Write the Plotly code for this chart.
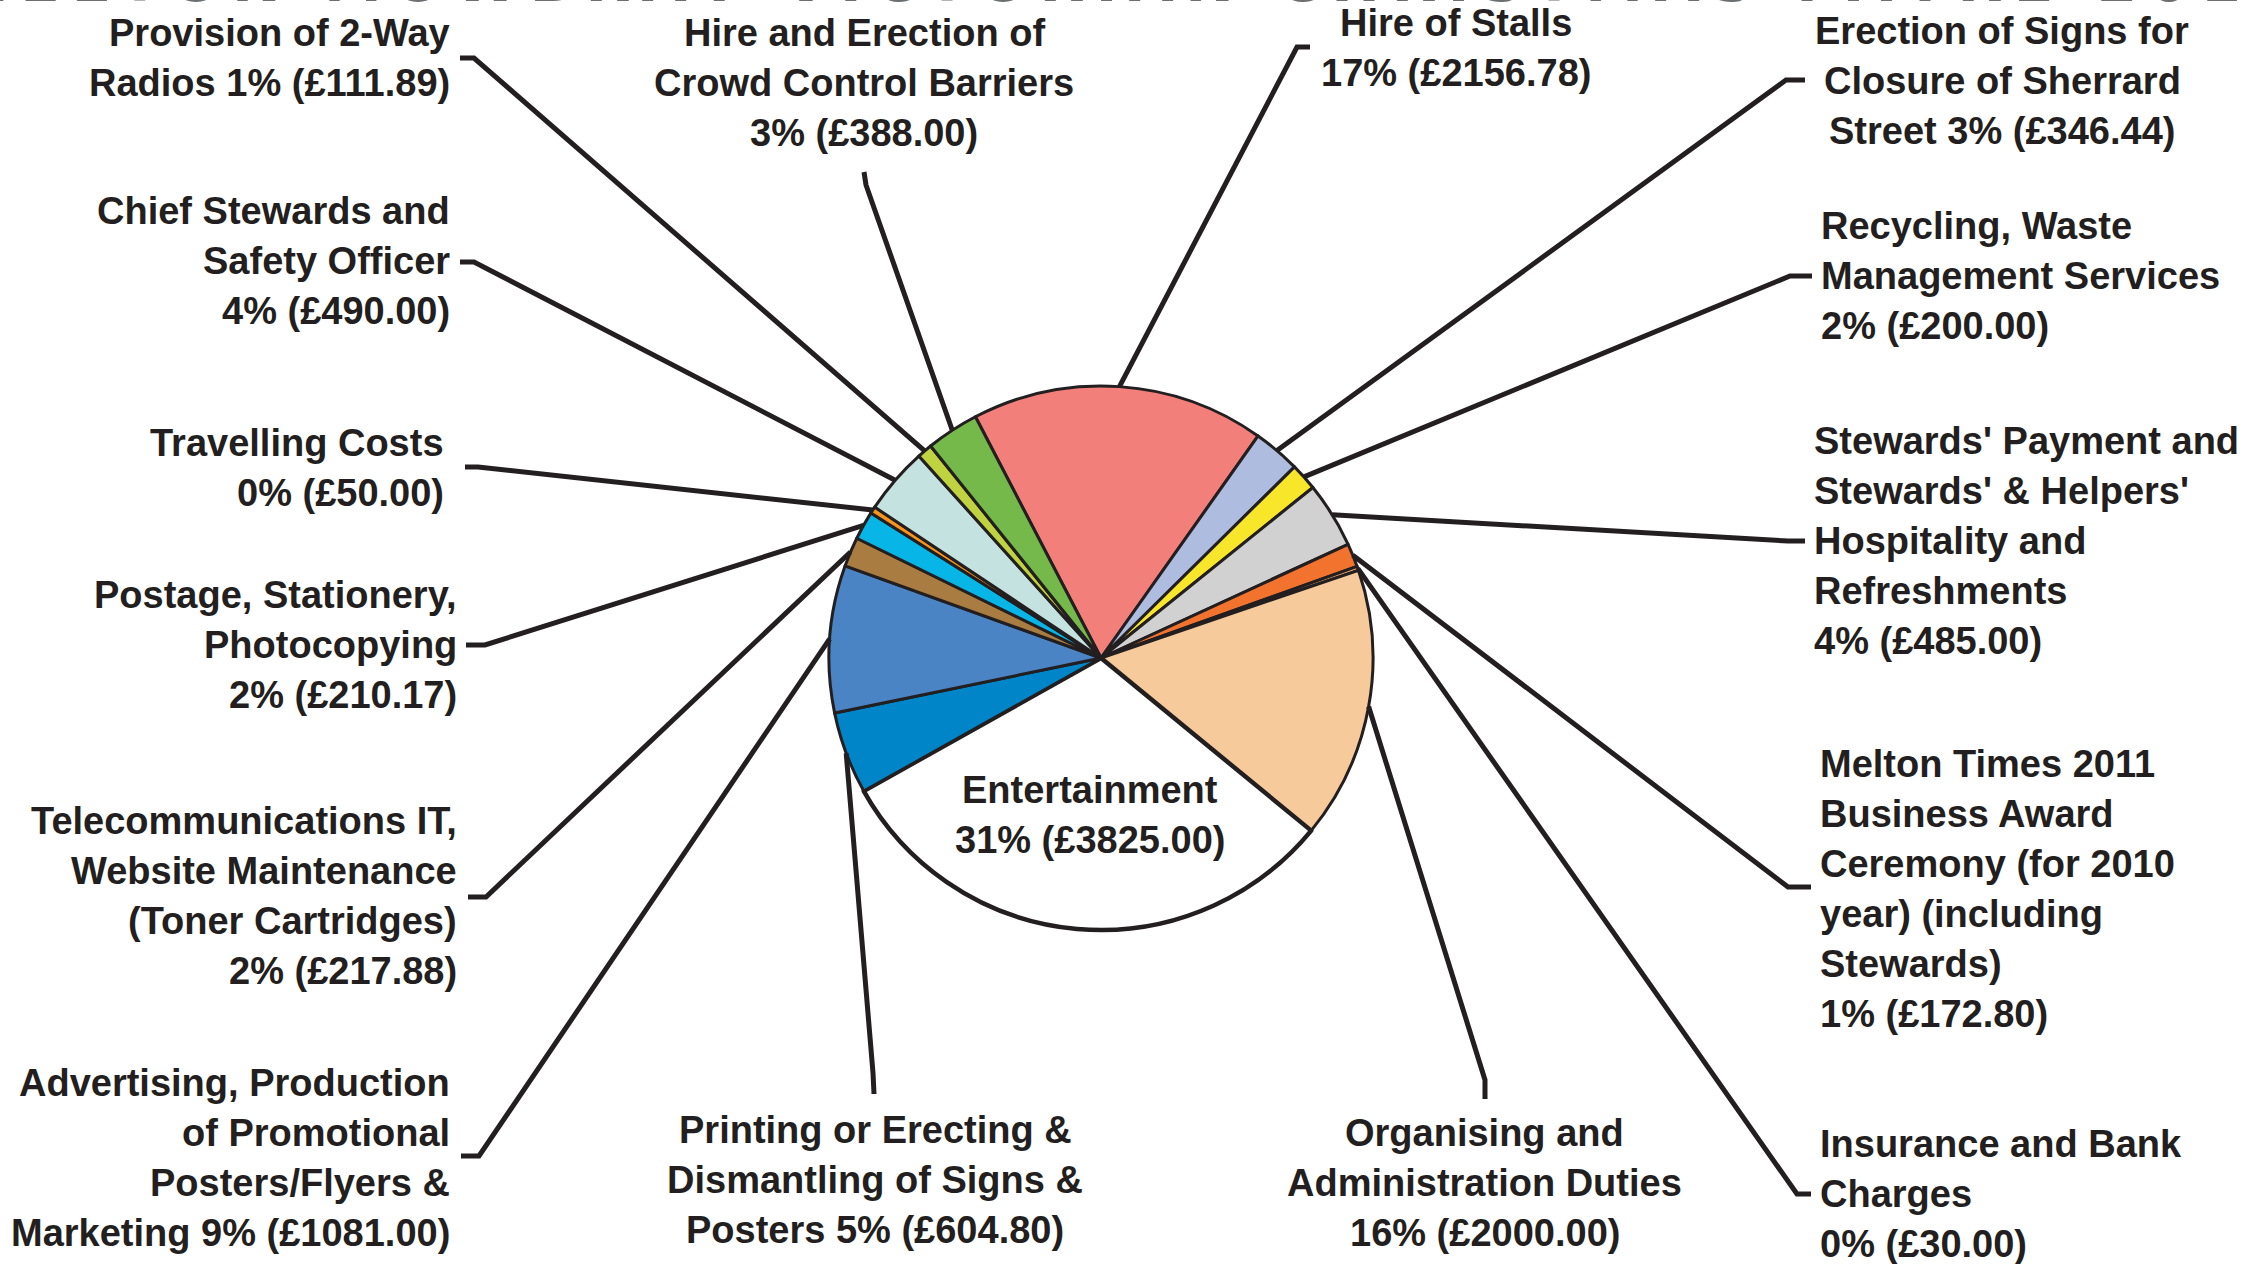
import math
import plotly.graph_objects as go

W, H = 2243, 1264

# ---------------- data ----------------
categories = [
    "Hire of Stalls",
    "Erection of Signs for Closure of Sherrard Street",
    "Recycling, Waste Management Services",
    "Stewards' Payment and Stewards' & Helpers' Hospitality and Refreshments",
    "Melton Times 2011 Business Award Ceremony (for 2010 year) (including Stewards)",
    "Insurance and Bank Charges",
    "Organising and Administration Duties",
    "Entertainment",
    "Printing or Erecting & Dismantling of Signs & Posters",
    "Advertising, Production of Promotional Posters/Flyers & Marketing",
    "Telecommunications IT, Website Maintenance (Toner Cartridges)",
    "Postage, Stationery, Photocopying",
    "Travelling Costs",
    "Chief Stewards and Safety Officer",
    "Provision of 2-Way Radios",
    "Hire and Erection of Crowd Control Barriers",
]
amounts = [2156.78, 346.44, 200.00, 485.00, 172.80, 30.00, 2000.00, 3825.00,
           604.80, 1081.00, 217.88, 210.17, 50.00, 490.00, 111.89, 388.00]

# label text lines ({p} = percent, {v} = amount)
label_lines = [
    ["Hire of Stalls", "{p}% (£{v})"],
    ["Erection of Signs for", "Closure of Sherrard", "Street {p}% (£{v})"],
    ["Recycling, Waste", "Management Services", "{p}% (£{v})"],
    ["Stewards' Payment and", "Stewards' & Helpers'", "Hospitality and", "Refreshments", "{p}% (£{v})"],
    ["Melton Times 2011", "Business Award", "Ceremony (for 2010", "year) (including", "Stewards)", "{p}% (£{v})"],
    ["Insurance and Bank", "Charges", "{p}% (£{v})"],
    ["Organising and", "Administration Duties", "{p}% (£{v})"],
    ["Entertainment", "{p}% (£{v})"],
    ["Printing or Erecting &", "Dismantling of Signs &", "Posters {p}% (£{v})"],
    ["Advertising, Production", "of Promotional", "Posters/Flyers &", "Marketing {p}% (£{v})"],
    ["Telecommunications IT,", "Website Maintenance", "(Toner Cartridges)", "{p}% (£{v})"],
    ["Postage, Stationery,", "Photocopying", "{p}% (£{v})"],
    ["Travelling Costs", "{p}% (£{v})"],
    ["Chief Stewards and", "Safety Officer", "{p}% (£{v})"],
    ["Provision of 2-Way", "Radios {p}% (£{v})"],
    ["Hire and Erection of", "Crowd Control Barriers", "{p}% (£{v})"],
]

colors = ["#F27F79", "#ADBCDF", "#F7E62A", "#D1D1D1", "#F2732E", "#E9A36A",
          "#F6CA9A", "#FFFFFF", "#0085C9", "#4A84C4", "#A97C41", "#07B6E6",
          "#F7941D", "#C3E2E0", "#BFD23F", "#75B94B"]

title_text = "MELTON MOWBRAY VICTORIAN CHRISTMAS FAYRE 2011"

# ---------------- layout constants ----------------
INK = "#231F20"
FONT = "Liberation Sans, Arial, Helvetica, sans-serif"
FS = 38
LS = 50  # line spacing (px)
CX, CY, R = 1101, 658, 272
ROT = -27.5

# label placement: (xanchor, x, first line y, leader start, leader elbow)
placement = [
    ("center", 1456, 23, (1310, 47), (1297, 47)),
    ("center", 2002, 31, (1805, 80), (1786, 80)),
    ("left", 1819, 226, (1812, 276), (1790, 276)),
    ("left", 1812, 441, (1805, 541), (1788, 541)),
    ("left", 1818, 764, (1811, 887), (1788, 887)),
    ("left", 1818, 1144, (1811, 1194), (1797, 1194)),
    ("center", 1485, 1133, (1485, 1099), (1485, 1080)),
    ("center", 1090, 790, None, None),
    ("center", 875, 1130, (874, 1094), (873, 1073)),
    ("right", 452, 1083, (461, 1156), (479, 1156)),
    ("right", 459, 821, (468, 897), (486, 897)),
    ("right", 459, 595, (466, 645), (485, 645)),
    ("right", 446, 443, (465, 467), (478, 467)),
    ("right", 452, 211, (460, 262), (474, 262)),
    ("right", 452, 33, (460, 58), (474, 58)),
    ("center", 864, 33, (864, 172), (866, 185)),
]


def px(x):
    return x / W


def py(y):
    return 1 - y / H


total = sum(amounts)
pcts = [round(v / total * 100) for v in amounts]

line_colors = [INK] * len(amounts)
line_widths = [3 if c != "Entertainment" else 4.5 for c in categories]

fig = go.Figure()
fig.add_trace(go.Pie(
    values=amounts,
    labels=categories,
    sort=False,
    direction="clockwise",
    rotation=ROT,
    marker=dict(colors=colors, line=dict(color=line_colors, width=line_widths)),
    textinfo="none",
    hoverinfo="label+value+percent",
    showlegend=False,
    domain=dict(x=[px(CX - R), px(CX + R)], y=[py(CY + R), py(CY - R)]),
))

annotations = []
shapes = []
cum = 0.0
for i, v in enumerate(amounts):
    mid = math.radians(ROT + (cum + v / 2) / total * 360)
    cum += v
    ax = CX + R * math.sin(mid)
    ay = CY - R * math.cos(mid)
    anchor, x, y0, start, elbow = placement[i]
    for k, ln in enumerate(label_lines[i]):
        annotations.append(dict(
            x=px(x), y=py(y0 + k * LS), xref="paper", yref="paper",
            text=ln.format(p=pcts[i], v=f"{v:.2f}"),
            showarrow=False, xanchor=anchor, yanchor="middle",
            font=dict(family=FONT, size=FS, color=INK, weight="bold"),
        ))
    if start is not None:
        path = (f"M {px(start[0])},{py(start[1])} L {px(elbow[0])},{py(elbow[1])} "
                f"L {px(ax)},{py(ay)}")
        shapes.append(dict(type="path", path=path, xref="paper", yref="paper",
                           line=dict(color=INK, width=5)))

# cut-off title at the very top
annotations.append(dict(
    x=0.5, y=py(17), xref="paper", yref="paper",
    text="\u2009".join(title_text), showarrow=False,
    xanchor="center", yanchor="bottom",
    font=dict(family="DejaVu Sans, sans-serif", size=58, color="#6D6E71", weight="bold"),
))

fig.update_layout(
    width=W, height=H,
    margin=dict(l=0, r=0, t=0, b=0),
    paper_bgcolor="white", plot_bgcolor="white",
    annotations=annotations, shapes=shapes,
)

fig.write_html(
    "out.html",
    config={"displayModeBar": False},
    post_script="document.body.style.margin='0';document.body.style.overflow='hidden';",
)
